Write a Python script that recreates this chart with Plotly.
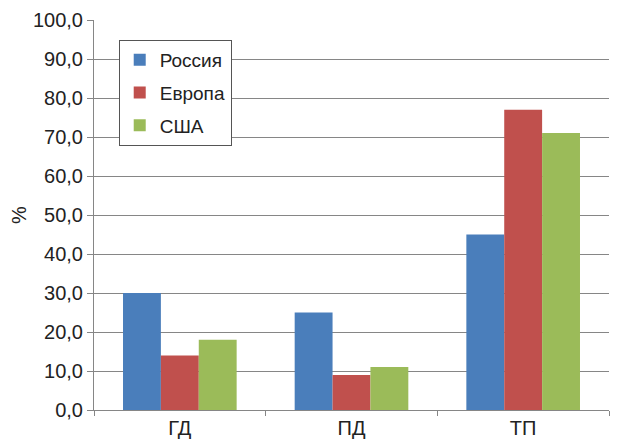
import plotly.graph_objects as go

categories = ['ГД', 'ПД', 'ТП']
series_names = ['Россия', 'Европа', 'США']
russia = [30, 25, 45]
europe = [14, 9, 77]
usa = [18, 11, 71]
y_ticks = [0, 10, 20, 30, 40, 50, 60, 70, 80, 90, 100]
y_tick_labels = [f'{v:.1f}'.replace('.', ',') for v in y_ticks]

colors = ['#4a7ebb', '#c0504d', '#9bbb59']
values = [russia, europe, usa]

fig = go.Figure()
for i, (name, vals) in enumerate(zip(series_names, values)):
    fig.add_trace(go.Bar(
        x=categories, y=vals, name=name,
        marker=dict(color=colors[i], line=dict(width=0)),
        legendgroup=f'g{i}',
    ))

font = dict(family='Liberation Sans, Arial, sans-serif', size=20, color='#222222')

# page body has an 8px margin, so the margins are shifted to compensate
fig.update_layout(
    width=625, height=441,
    barmode='group', bargap=0.338, bargroupgap=0,
    plot_bgcolor='white', paper_bgcolor='white',
    margin=dict(l=86, r=24, t=12, b=39),
    font=font,
    legend=dict(
        x=0.048, y=0.949, xanchor='left', yanchor='top',
        bgcolor='white', bordercolor='#555555', borderwidth=1,
        font=dict(family='Liberation Sans, Arial, sans-serif', size=19, color='#222222'),
        tracegroupgap=5,
    ),
)
fig.update_xaxes(
    showline=True, linecolor='#868686', linewidth=1,
    ticks='outside', ticklen=5, tickcolor='#868686',
    tickson='boundaries', showgrid=False, automargin=False,
    tickfont=font,
)
fig.update_yaxes(
    range=[0, 100], tickmode='array', tickvals=y_ticks, ticktext=y_tick_labels,
    showline=True, linecolor='#868686', linewidth=1,
    ticks='outside', ticklen=6, tickcolor='#868686',
    showgrid=True, gridcolor='#868686', gridwidth=1,
    zeroline=False, tickfont=font, automargin=False,
    title=dict(text='%', font=font, standoff=16),
)

fig.write_html('out.html')
